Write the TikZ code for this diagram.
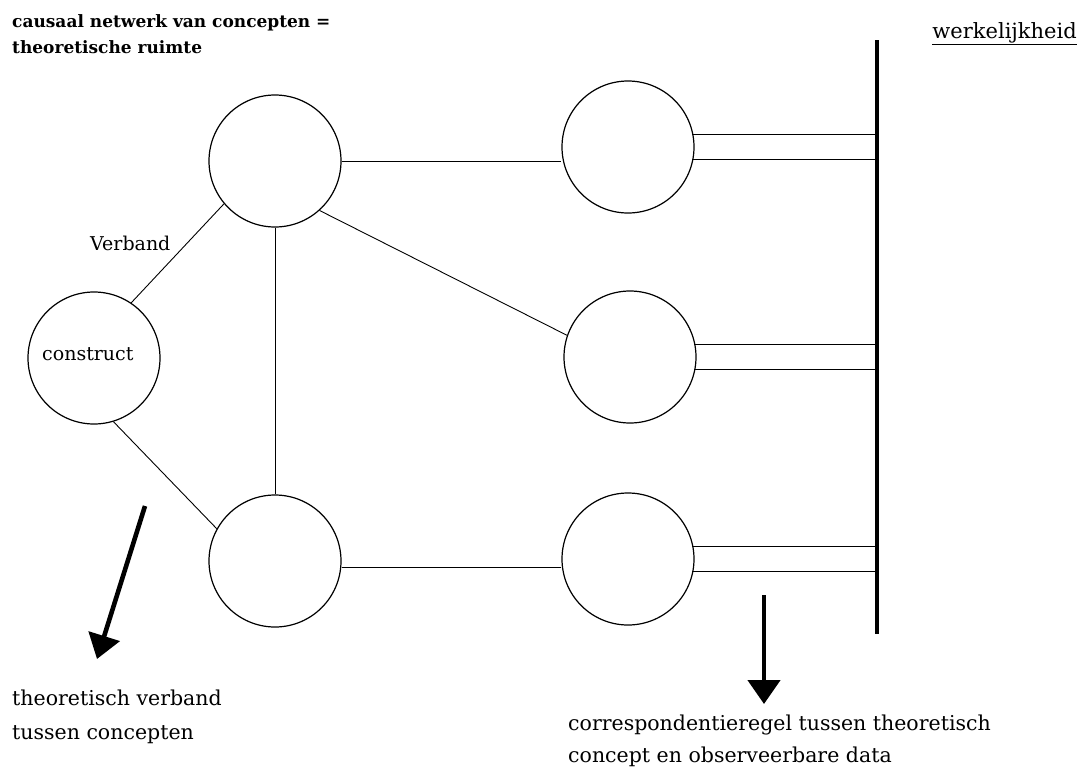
\documentclass[tikz,border=0pt]{standalone}
\usepackage{fontspec}
\setmainfont{DejaVu Serif}
\usetikzlibrary{arrows.meta}
\begin{document}
\begin{tikzpicture}[x=1pt,y=-1pt,
  concept/.style={circle,draw,line width=1.2pt,minimum size=132pt,inner sep=0pt},
  link/.style={line width=0.9pt},
  rule/.style={line width=1.1pt},
  bigarrow/.style={line width=4.6pt,-{Triangle[width=32pt,length=24pt]}},
  caption/.style={align=left,inner sep=0pt,anchor=base west},
  small/.style={font=\fontsize{19}{22}\selectfont,inner sep=0pt,anchor=base west}]
\useasboundingbox (0,0) rectangle (1081,769);

% concept circles
\node[concept] (con) at (94,358) {};
\node[concept] (tl) at (275,161) {};
\node[concept] (bl) at (275,561) {};
\node[concept] (tr) at (628,147) {};
\node[concept] (mr) at (630,357) {};
\node[concept] (br) at (628,559) {};

% reality bar
\coordinate (barT) at (877,40);
\coordinate (barB) at (877,634);
\draw[line width=3.5pt] (barT) -- (barB);

% causal links
\draw[link] (con.56) -- (tl.220);
\draw[link] (con.-73) -- (bl.151);
\draw[link] (tl.south) -- (bl.north);
\draw[link] (tl.east) -- (tl.east -| tr.west);
\draw[link] (tl.-48) -- (mr.161);
\draw[link] ([yshift=-6pt]bl.east) -- ([yshift=-6pt]bl.east -| br.west);

% correspondence rules: double lines to the bar
\foreach \c in {tr,mr,br}{
  \draw[rule] (\c.11.5) -- (\c.11.5 -| barT);
  \draw[rule] (\c.-11.5) -- (\c.-11.5 -| barT);
}

% arrows
\coordinate (a1s) at (145,506);
\coordinate (a1e) at (97,659);
\coordinate (a2s) at (764,595);
\coordinate (a2e) at (764,704);
\draw[bigarrow] (a1s) -- (a1e);
\draw[bigarrow] (a2s) -- (a2e);

% texts (multi-line nodes are placed by the baseline of their last line)
\node[caption,font=\bfseries\fontsize{17}{26}\selectfont] (title) at (12,53)
  {causaal netwerk van concepten =\\theoretische ruimte};
\node[anchor=base east,inner sep=0pt,font=\fontsize{21}{24}\selectfont] (real) at (1077,38) {\underline{werkelijkheid}};
\node[small] (verb) at (90,250) {Verband};
\node[small] (cons) at (42,360) {construct};
\node[caption,font=\fontsize{20.5}{34}\selectfont] (lt) at (12,739) {theoretisch verband\\tussen concepten};
\node[caption,font=\fontsize{20.5}{32}\selectfont] (rt) at (568,762) {correspondentieregel tussen theoretisch\\concept en observeerbare data};
\end{tikzpicture}
\end{document}
